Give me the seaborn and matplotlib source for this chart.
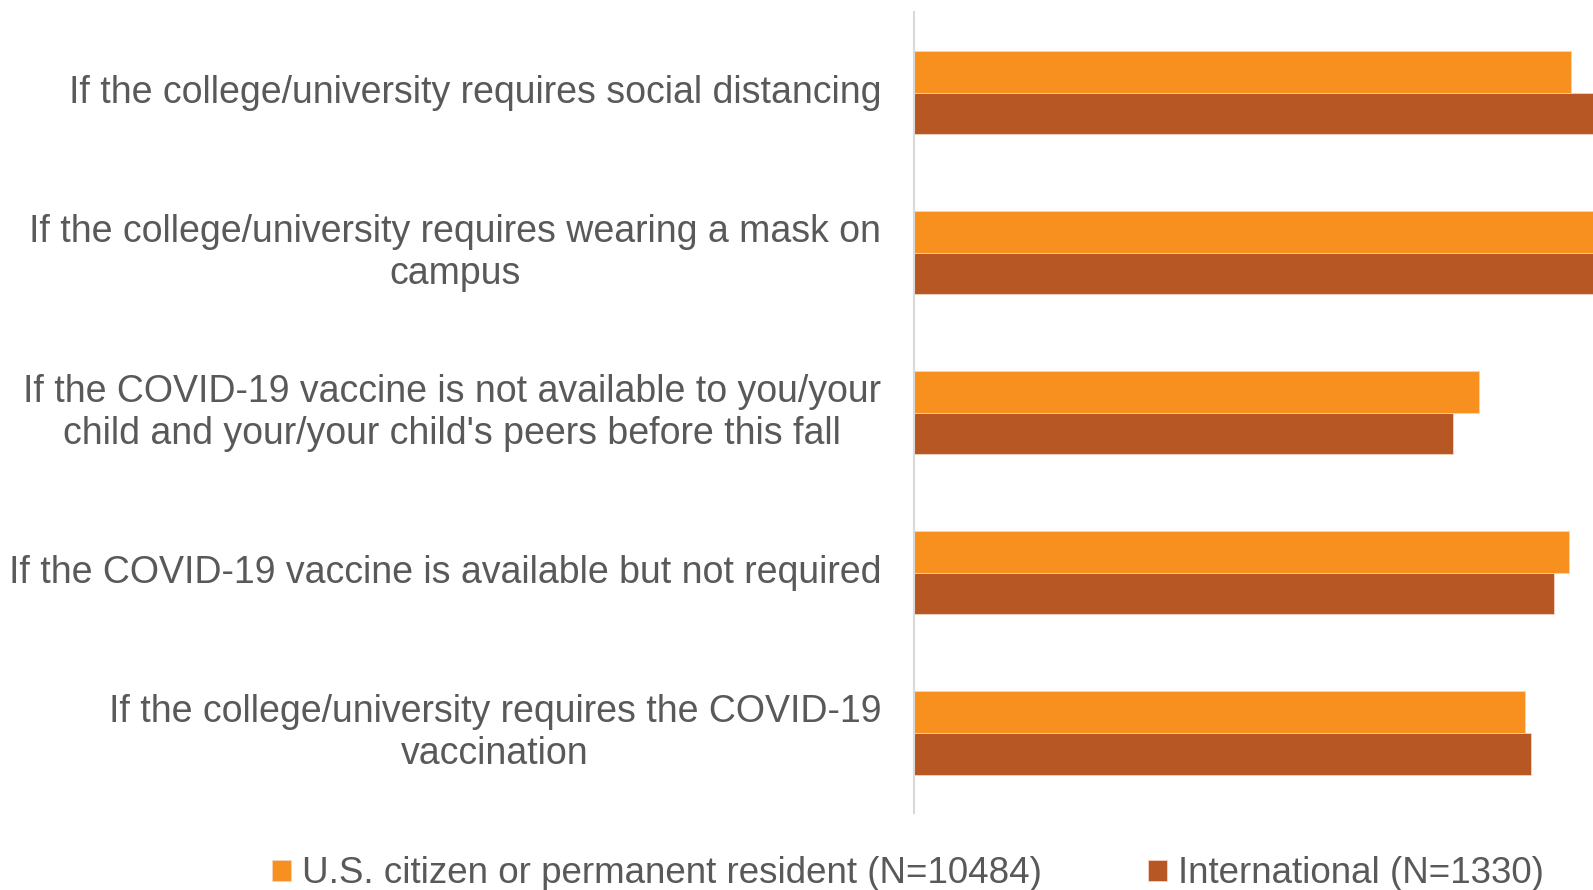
import matplotlib
matplotlib.use("Agg")
import matplotlib.pyplot as plt
import seaborn as sns
import pandas as pd

# categories (top to bottom) and values in % of the visible axis width
questions = [
    "If the college/university requires social distancing",
    "If the college/university requires wearing a mask on\ncampus",
    "If the COVID-19 vaccine is not available to you/your\nchild and your/your child's peers before this fall",
    "If the COVID-19 vaccine is available but not required",
    "If the college/university requires the COVID-19\nvaccination",
]
us_vals = [96.7, 105.0, 83.2, 96.4, 90.0]
intl_vals = [105.0, 105.0, 79.3, 94.3, 90.9]
groups = ["U.S. citizen or permanent resident (N=10484)", "International (N=1330)"]
colors = ["#F7901E", "#B75723"]

df = pd.DataFrame({
    "question": questions * 2,
    "value": us_vals + intl_vals,
    "group": [groups[0]] * len(questions) + [groups[1]] * len(questions),
})

sns.set_style("white")
plt.rcParams["font.family"] = ["Liberation Sans", "DejaVu Sans"]
text_color = "#595959"

fig = plt.figure(figsize=(15.93, 8.90), dpi=100)
ax = fig.add_axes([0.574, 0.0865, 0.426, 0.8995])

sns.barplot(data=df, x="value", y="question", hue="group", orient="h",
            palette=colors, saturation=1, width=0.52, edgecolor="#F5D5C0",
            linewidth=0.6, ax=ax, legend=True)

ax.set_xlim(0, 100)
ax.set_ylim(4.5, -0.5)
ax.set_xlabel("")
ax.set_ylabel("")
ax.set_xticks([])
for s in ["top", "right", "bottom"]:
    ax.spines[s].set_visible(False)
ax.spines["left"].set_color("#D9D9D9")
ax.spines["left"].set_linewidth(1.5)

ax.tick_params(axis="y", length=0, pad=24)
for lbl in ax.get_yticklabels():
    lbl.set_fontsize(27)
    lbl.set_color(text_color)
    lbl.set_multialignment("center")
    lbl.set_linespacing(1.22)
    lbl.set_verticalalignment("center")

handles, labels = ax.get_legend_handles_labels()
ax.get_legend().remove()
leg = fig.legend(handles, labels, loc="center", bbox_to_anchor=(0.57, 0.018),
                 ncol=2, frameon=False, fontsize=26.5, handlelength=0.5,
                 handleheight=0.5, handletextpad=0.3, columnspacing=2.9,
                 labelcolor=text_color)

fig.savefig("out.png", dpi=100)
